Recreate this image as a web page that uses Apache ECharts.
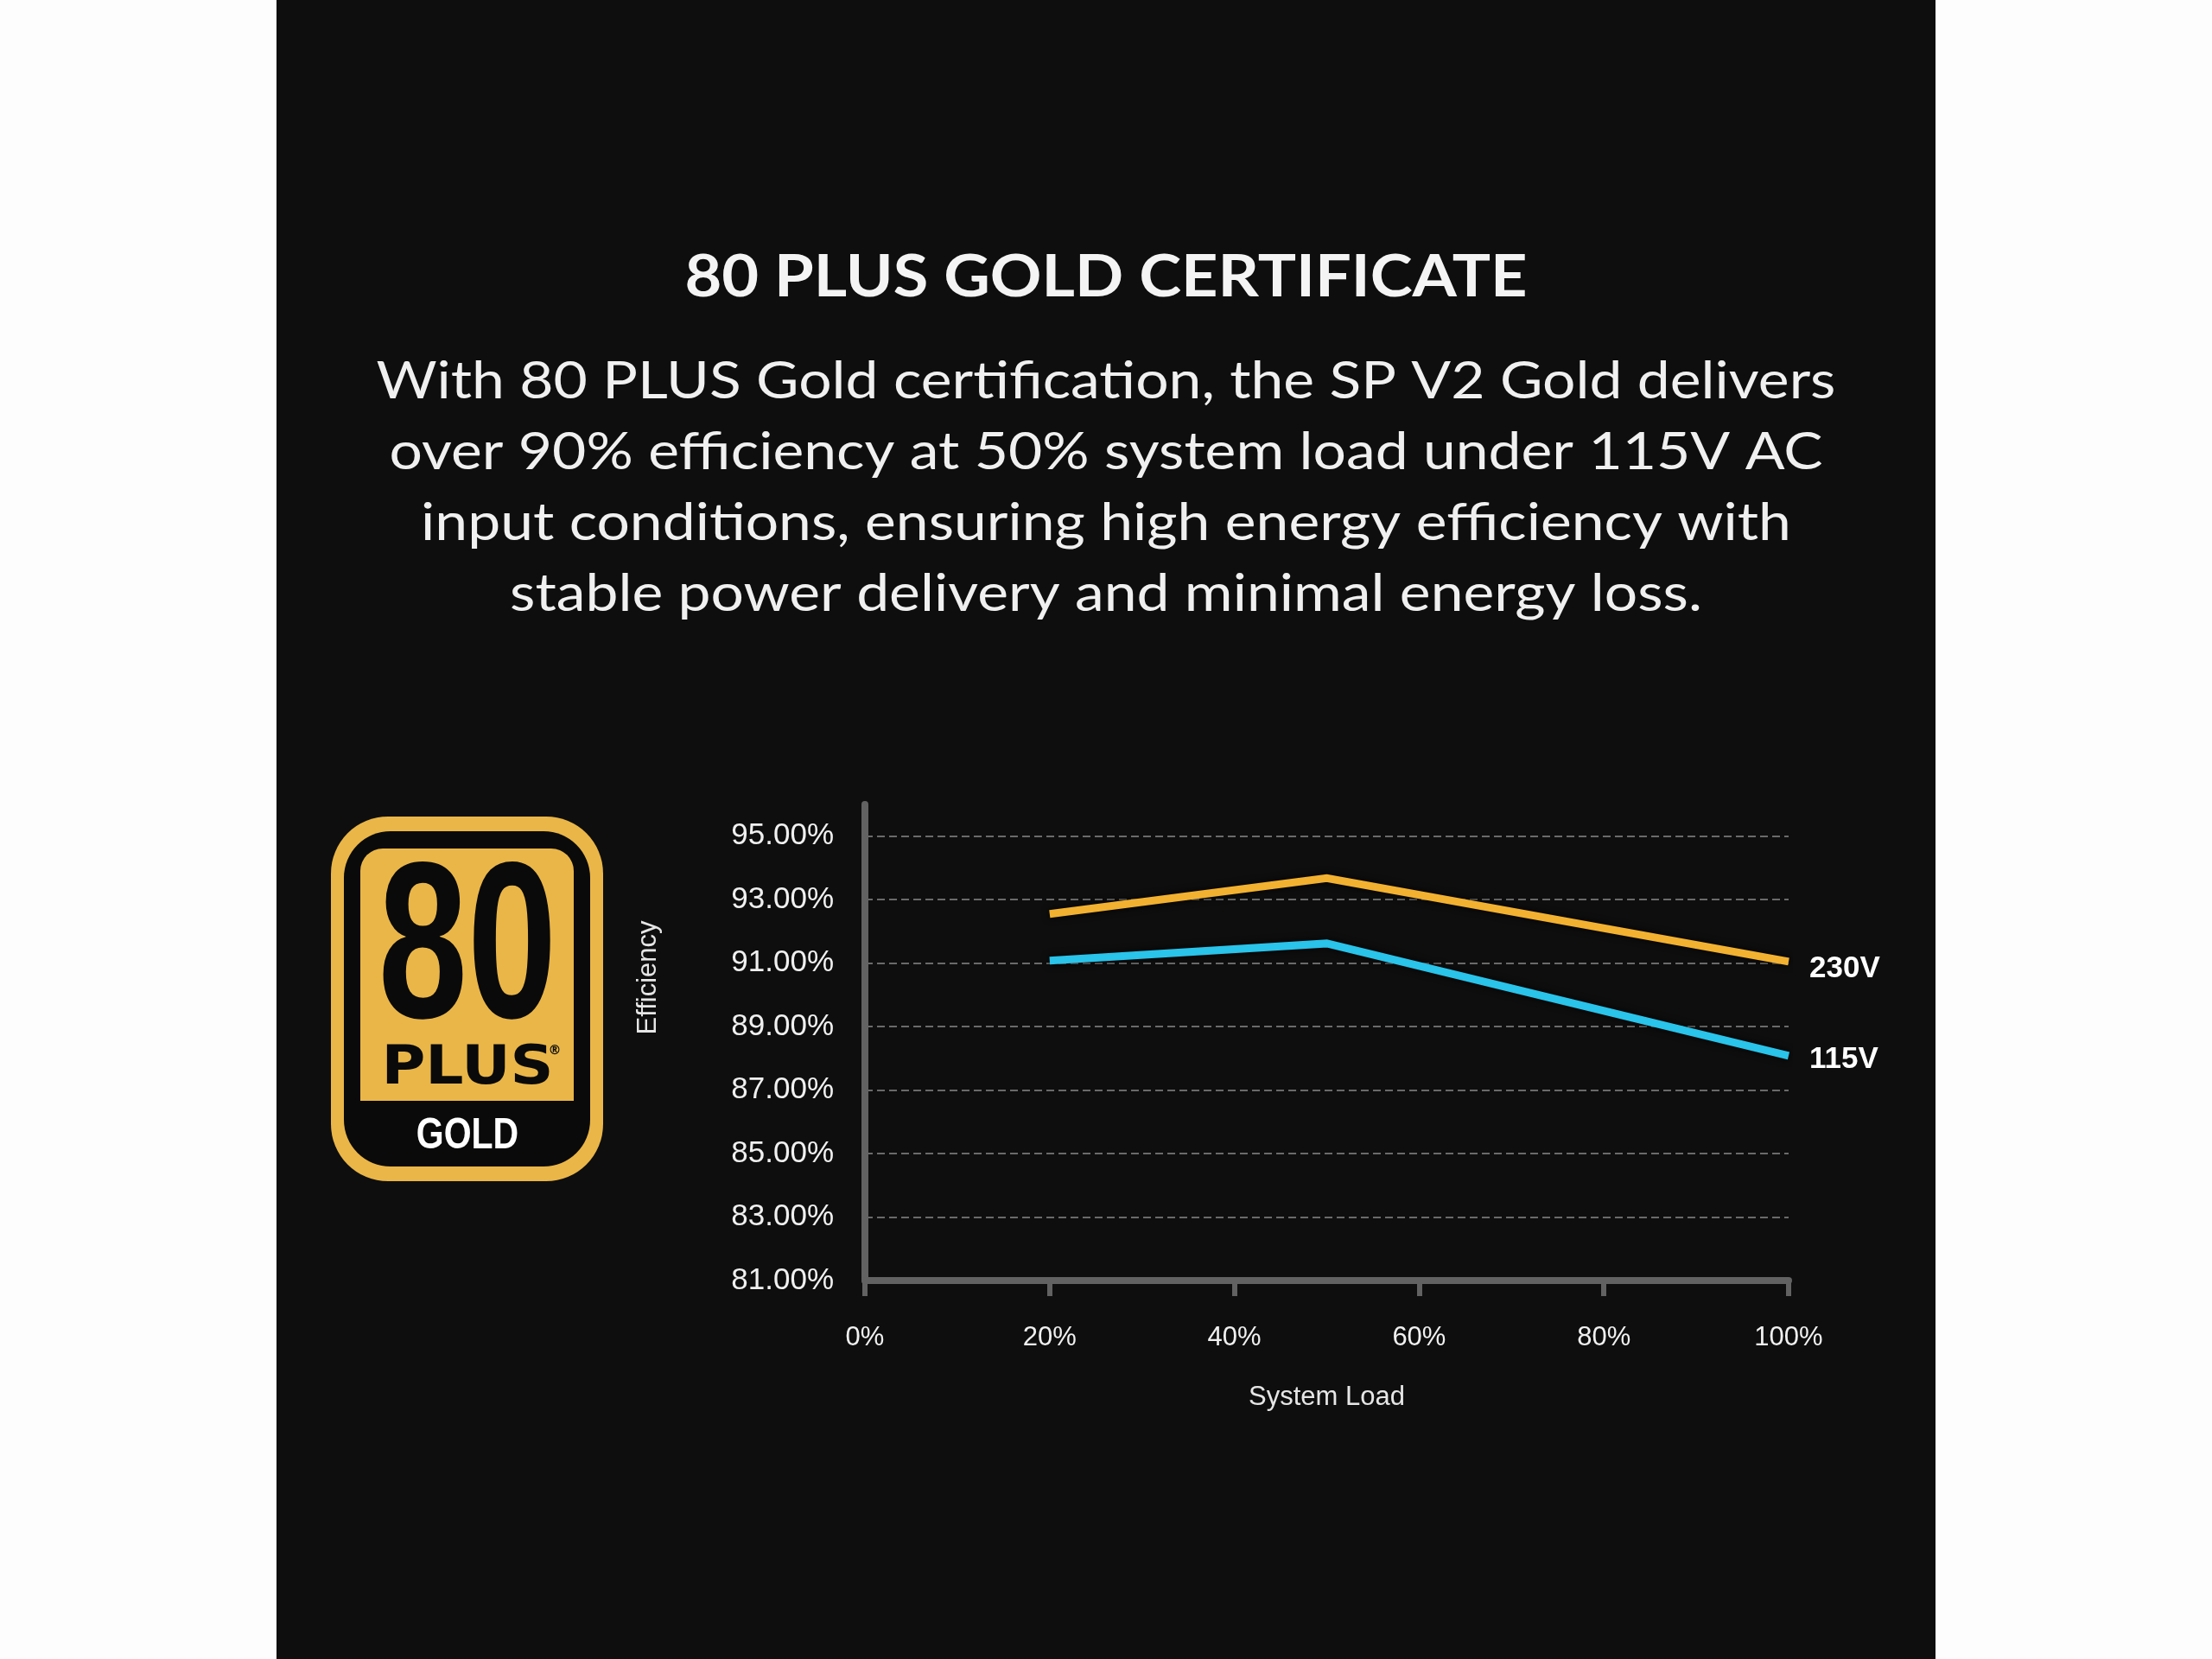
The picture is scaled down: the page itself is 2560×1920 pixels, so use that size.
<!DOCTYPE html>
<html>
<head>
<meta charset="utf-8">
<script src="https://cdn.jsdelivr.net/npm/echarts@6/dist/echarts.min.js"></script>
<style>
  html, body { margin: 0; padding: 0; background: #fdfdfd; }
  #panel { position: absolute; left: 320px; top: 0; width: 1920px; height: 1920px; background: #0e0e0e; }
  #chart { position: absolute; left: 0; top: 0; width: 2560px; height: 1920px; }
</style>
</head>
<body>
<div id="panel"></div>
<div id="chart"></div>
<script>
// ---- data ----
const titleText = '80 PLUS GOLD CERTIFICATE';
const bodyLines = [
  'With 80 PLUS Gold certification, the SP V2 Gold delivers',
  'over 90% efficiency at 50% system load under 115V AC',
  'input conditions, ensuring high energy efficiency with',
  'stable power delivery and minimal energy loss.'
];
const loadPoints = [20, 50, 100];          // System Load (%)
const eff230V = [92.55, 93.68, 91.05];     // Efficiency (%) at 230V
const eff115V = [91.08, 91.62, 88.08];     // Efficiency (%) at 115V
const seriesNames = ['230V', '115V'];
const xAxisName = 'System Load';
const yAxisName = 'Efficiency';

const chart = echarts.init(document.getElementById('chart'), null, { renderer: 'canvas' });

const gold = '#EAB648';
const labelFont = '"Liberation Sans", Arial, sans-serif';

function pairs(xs, ys) { return xs.map((x, i) => [x, ys[i]]); }

const option = {
  backgroundColor: 'transparent',
  grid: { left: 1001, right: 490, top: 931, bottom: 438, containLabel: false },
  xAxis: {
    type: 'value',
    min: 0, max: 100, interval: 20,
    name: xAxisName,
    nameLocation: 'middle',
    nameGap: 120,
    nameTextStyle: { color: '#e6e6e6', fontFamily: labelFont, fontSize: 31 },
    axisLine: { show: true, lineStyle: { color: '#626262', width: 8 } },
    axisTick: { show: true, length: 18, lineStyle: { color: '#626262', width: 6 } },
    axisLabel: { color: '#f0f0f0', fontFamily: labelFont, fontSize: 31, margin: 51, formatter: '{value}%' },
    splitLine: { show: false }
  },
  yAxis: {
    type: 'value',
    min: 81, max: 96, interval: 2,
    name: yAxisName,
    nameLocation: 'middle',
    nameGap: 235,
    nameRotate: 90,
    nameTextStyle: { color: '#e6e6e6', fontFamily: labelFont, fontSize: 31, padding: [0, 0, 0, 150] },
    axisLine: { show: true, lineStyle: { color: '#626262', width: 8 } },
    axisTick: { show: false },
    axisLabel: {
      color: '#f0f0f0', fontFamily: labelFont, fontSize: 35, margin: 36,
      formatter: function (v) { return (Math.round(v) % 2 === 1) ? v.toFixed(2) + '%' : ''; }
    },
    splitLine: {
      show: true, showMinLine: false, showMaxLine: false,
      lineStyle: { color: '#6a6a6a', width: 2, type: [9, 5] }
    }
  },
  series: [
    {
      name: seriesNames[0],
      type: 'line',
      data: pairs(loadPoints, eff230V),
      symbol: 'none',
      lineStyle: { color: '#F2B130', width: 9, cap: 'butt', join: 'miter', shadowColor: 'rgba(0,0,0,0.9)', shadowBlur: 8 },
      itemStyle: { color: '#F2B130' },
      endLabel: { show: true, formatter: '{a}', color: '#ffffff', fontFamily: labelFont, fontWeight: 'bold', fontSize: 35, distance: 24, offset: [0, 9] },
      z: 3
    },
    {
      name: seriesNames[1],
      type: 'line',
      data: pairs(loadPoints, eff115V),
      symbol: 'none',
      lineStyle: { color: '#2AC3E9', width: 9, cap: 'butt', join: 'miter', shadowColor: 'rgba(0,0,0,0.9)', shadowBlur: 8 },
      itemStyle: { color: '#2AC3E9' },
      endLabel: { show: true, formatter: '{a}', color: '#ffffff', fontFamily: labelFont, fontWeight: 'bold', fontSize: 35, distance: 24, offset: [0, 4] },
      z: 3
    }
  ],
  graphic: [
    {
      type: 'text', x: 1280, y: 289, scaleX: 1.12,
      style: { text: titleText, fill: '#f4f4f4', font: 'bold 66px Lato, sans-serif', textAlign: 'center', textVerticalAlign: 'top' }
    },
    {
      type: 'text', x: 1280, y: 401, scaleX: 1.13,
      style: { text: bodyLines.join('\n'), fill: '#f0f0f0', font: '60px Lato, sans-serif', lineHeight: 82, textAlign: 'center', textVerticalAlign: 'top' }
    },
    {
      type: 'group',
      left: 383, top: 945,
      children: [
        { type: 'rect', shape: { x: 0, y: 0, width: 315, height: 422, r: 66 }, style: { fill: gold } },
        { type: 'rect', shape: { x: 15, y: 17, width: 285, height: 388, r: 54 }, style: { fill: '#0a0a0a' } },
        { type: 'rect', shape: { x: 34, y: 37, width: 247, height: 292, r: [26, 26, 0, 0] }, style: { fill: gold } },
        { type: 'text', x: 158, y: 161, scaleX: 0.72, style: { text: '80', fill: '#0a0a0a', font: 'bold 258px "Liberation Sans", Arial, sans-serif', textAlign: 'center', textVerticalAlign: 'middle' } },
        { type: 'text', x: 158, y: 293, scaleX: 1.12, style: { text: 'PLUS', fill: '#0a0a0a', font: 'bold 62px "DejaVu Sans", sans-serif', textAlign: 'center', textVerticalAlign: 'middle' } },
        { type: 'text', x: 259, y: 271, style: { text: '®', fill: '#0a0a0a', font: 'bold 15px "DejaVu Sans", sans-serif', textAlign: 'center', textVerticalAlign: 'middle' } },
        { type: 'text', x: 158, y: 370, scaleX: 0.82, style: { text: 'GOLD', fill: '#ffffff', font: 'bold 50px "Liberation Sans", Arial, sans-serif', textAlign: 'center', textVerticalAlign: 'middle' } }
      ]
    }
  ]
};

chart.setOption(option);
</script>
</body>
</html>
